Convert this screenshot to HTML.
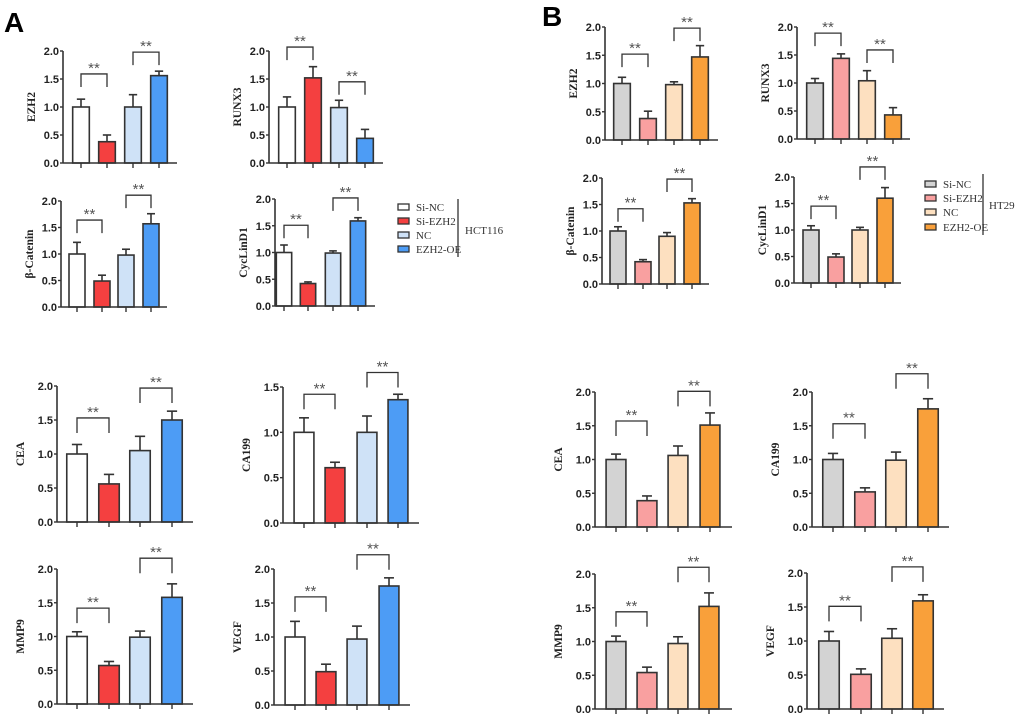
<!DOCTYPE html>
<html><head><meta charset="utf-8"><style>
body{margin:0;background:#fff;}
svg{display:block;}
.tk{font-family:"Liberation Sans",sans-serif;font-weight:bold;font-size:11px;fill:#222;}
.st{font-family:"Liberation Sans",sans-serif;font-size:15px;fill:#555;}
.yl{font-family:"Liberation Serif",serif;font-weight:bold;font-size:11.5px;fill:#222;}
.lg{font-family:"Liberation Serif",serif;font-size:11px;fill:#333;}
.pl{font-family:"Liberation Sans",sans-serif;font-weight:bold;font-size:28px;fill:#000;}
</style></head><body>
<svg id="fig" width="1020" height="722" xmlns="http://www.w3.org/2000/svg">
<text class="pl" x="4" y="32">A</text>
<text class="pl" x="542" y="26">B</text>
</svg>
<script>
const colorsA=["#ffffff","#f44040","#cfe2f7","#4d9cf5"];
const colorsB=["#d3d3d3","#f9a0a0","#fde0c0","#f9a03a"];
const groups=["Si-NC","Si-EZH2","NC","EZH2-OE"];
// values
const aEZH2=[1.0,0.38,1.0,1.56], aEZH2Err=[0.14,0.12,0.22,0.08];
const aRUNX3=[1.0,1.52,0.99,0.44], aRUNX3Err=[0.18,0.2,0.13,0.16];
const aCat=[1.0,0.49,0.98,1.57], aCatErr=[0.22,0.11,0.11,0.19];
const aCyc=[1.0,0.42,0.99,1.59], aCycErr=[0.14,0.03,0.04,0.06];
const aCEA=[1.0,0.56,1.05,1.5], aCEAErr=[0.14,0.14,0.21,0.13];
const aCA199=[1.0,0.61,1.0,1.36], aCA199Err=[0.16,0.06,0.18,0.06];
const aMMP9=[1.0,0.57,0.99,1.58], aMMP9Err=[0.07,0.06,0.09,0.2];
const aVEGF=[1.0,0.49,0.97,1.75], aVEGFErr=[0.23,0.11,0.19,0.12];
const bEZH2=[1.0,0.38,0.98,1.47], bEZH2Err=[0.11,0.13,0.05,0.2];
const bRUNX3=[1.0,1.44,1.04,0.43], bRUNX3Err=[0.08,0.08,0.18,0.13];
const bCat=[1.0,0.42,0.9,1.53], bCatErr=[0.08,0.04,0.07,0.08];
const bCyc=[1.0,0.49,1.0,1.6], bCycErr=[0.08,0.06,0.05,0.2];
const bCEA=[1.0,0.39,1.06,1.51], bCEAErr=[0.08,0.07,0.14,0.18];
const bCA199=[1.0,0.52,0.99,1.75], bCA199Err=[0.09,0.06,0.12,0.15];
const bMMP9=[1.0,0.54,0.97,1.52], bMMP9Err=[0.08,0.08,0.1,0.2];
const bVEGF=[1.0,0.51,1.04,1.59], bVEGFErr=[0.14,0.08,0.14,0.09];
const ticks2=["0.0","0.5","1.0","1.5","2.0"];
const ticks15=["0.0","0.5","1.0","1.5"];

const NS="http://www.w3.org/2000/svg";
const svg=document.getElementById("fig");
function mk(tag,attrs,parent){const e=document.createElementNS(NS,tag);for(const k in attrs)e.setAttribute(k,attrs[k]);(parent||svg).appendChild(e);return e;}

function panel(p){
  const g=mk("g",{});
  
  
  const ymax=parseFloat(p.ticks[p.ticks.length-1]);
  const y=v=>p.bot-(v/ymax)*(p.bot-p.top);
  const step=p.cx[1]-p.cx[0];
  const bw=step*0.64;
  p.vals.forEach((v,i)=>{
    const top=y(v+p.err[i]);
    const el=mk("line",{x1:p.cx[i],x2:p.cx[i],y1:y(v),y2:top,stroke:"#333","stroke-width":1.6},g);
    
    
    const cap=mk("line",{x1:p.cx[i]-bw*0.25,x2:p.cx[i]+bw*0.25,y1:top,y2:top,stroke:"#333","stroke-width":1.6},g);
    
    
    const r=mk("rect",{x:p.cx[i]-bw/2,y:y(v),width:bw,height:p.bot-y(v),fill:p.colors[i],stroke:"#333","stroke-width":1.6},g);
    
    
    const t=mk("line",{x1:p.cx[i],x2:p.cx[i],y1:p.bot,y2:p.bot+5,stroke:"#333","stroke-width":1.4},g);
    
    
  });
  const ya=mk("line",{x1:p.ax,x2:p.ax,y1:p.top,y2:p.bot,stroke:"#333","stroke-width":1.6},g);
  
  
  const xa=mk("line",{x1:p.ax,x2:p.end,y1:p.bot,y2:p.bot,stroke:"#333","stroke-width":1.6},g);
  
  
  p.ticks.forEach(tl=>{
    const yy=y(parseFloat(tl));
    mk("line",{x1:p.ax-3,x2:p.ax,y1:yy,y2:yy,stroke:"#333","stroke-width":1.4},g);
    const tx=mk("text",{x:p.ax-4,y:yy+4,"text-anchor":"end",class:"tk"},g);
    tx.textContent=tl;
    
    
  });
  const lx=p.ax-p.lo, ly=(p.top+p.bot)/2;
  const yl=mk("text",{x:lx,y:ly,"text-anchor":"middle",class:"yl",transform:`rotate(-90 ${lx} ${ly})`},g);
  yl.textContent=p.label;
  
  
  const leg=p.leg||13;
  [[0,1,p.br[0]],[2,3,p.br[1]]].forEach(([a,b,v])=>{
    const by=y(v);
    const br=mk("path",{d:`M${p.cx[a]} ${by+leg}V${by}H${p.cx[b]}V${by+leg}`,fill:"none",stroke:"#333","stroke-width":1.3},g);
    
    
    const st=mk("text",{x:(p.cx[a]+p.cx[b])/2,y:by-1,"text-anchor":"middle",class:"st"},g);
    st.textContent="**";
    
    
  });
}
const T=28,B=33;
panel({name:"a-ezh2-chart",label:"EZH2",vals:aEZH2,err:aEZH2Err,colors:colorsA,ticks:ticks2,ax:63,top:51,bot:163,end:177,cx:[81,107,133,159],br:[1.59,1.98],lo:T});
panel({name:"a-runx3-chart",label:"RUNX3",vals:aRUNX3,err:aRUNX3Err,colors:colorsA,ticks:ticks2,ax:269,top:51,bot:163,end:383,cx:[287,313,339,365],br:[2.07,1.45],lo:T});
panel({name:"a-beta-catenin-chart",label:"β-Catenin",vals:aCat,err:aCatErr,colors:colorsA,ticks:ticks2,ax:61,top:201,bot:307,end:167,cx:[77,102,126,151],br:[1.64,2.11],lo:T});
panel({name:"a-cyclind1-chart",label:"CycLinD1",vals:aCyc,err:aCycErr,colors:colorsA,ticks:ticks2,ax:275,top:199,bot:306,end:375,cx:[284,308,333,358],br:[1.51,2.02],lo:T});
panel({name:"a-cea-chart",label:"CEA",vals:aCEA,err:aCEAErr,colors:colorsA,ticks:ticks2,ax:57,top:386,bot:522,end:193,cx:[77,109,140,172],br:[1.53,1.97],lo:B,leg:15});
panel({name:"a-ca199-chart",label:"CA199",vals:aCA199,err:aCA199Err,colors:colorsA,ticks:ticks15,ax:283,top:387,bot:523,end:419,cx:[304,335,367,398],br:[1.42,1.66],lo:B,leg:15});
panel({name:"a-mmp9-chart",label:"MMP9",vals:aMMP9,err:aMMP9Err,colors:colorsA,ticks:ticks2,ax:57,top:569,bot:704,end:193,cx:[77,109,140,172],br:[1.42,2.16],lo:B,leg:15});
panel({name:"a-vegf-chart",label:"VEGF",vals:aVEGF,err:aVEGFErr,colors:colorsA,ticks:ticks2,ax:274,top:569,bot:705,end:410,cx:[295,326,357,389],br:[1.59,2.21],lo:B,leg:15});
panel({name:"b-ezh2-chart",label:"EZH2",vals:bEZH2,err:bEZH2Err,colors:colorsB,ticks:ticks2,ax:605,top:27,bot:140,end:718,cx:[622,648,674,700],br:[1.52,1.98],lo:T});
panel({name:"b-runx3-chart",label:"RUNX3",vals:bRUNX3,err:bRUNX3Err,colors:colorsB,ticks:ticks2,ax:797,top:27,bot:139,end:910,cx:[815,841,867,893],br:[1.89,1.59],lo:T});
panel({name:"b-beta-catenin-chart",label:"β-Catenin",vals:bCat,err:bCatErr,colors:colorsB,ticks:ticks2,ax:602,top:178,bot:284,end:709,cx:[618,643,667,692],br:[1.42,1.98],lo:T});
panel({name:"b-cyclind1-chart",label:"CycLinD1",vals:bCyc,err:bCycErr,colors:colorsB,ticks:ticks2,ax:794,top:177,bot:283,end:901,cx:[811,836,860,885],br:[1.45,2.19],lo:T});
panel({name:"b-cea-chart",label:"CEA",vals:bCEA,err:bCEAErr,colors:colorsB,ticks:ticks2,ax:595,top:392,bot:527,end:732,cx:[616,647,678,710],br:[1.57,2.01],lo:B,leg:15});
panel({name:"b-ca199-chart",label:"CA199",vals:bCA199,err:bCA199Err,colors:colorsB,ticks:ticks2,ax:812,top:392,bot:527,end:949,cx:[833,865,896,928],br:[1.53,2.27],lo:B,leg:15});
panel({name:"b-mmp9-chart",label:"MMP9",vals:bMMP9,err:bMMP9Err,colors:colorsB,ticks:ticks2,ax:595,top:574,bot:709,end:732,cx:[616,647,678,709],br:[1.44,2.1],lo:B,leg:15});
panel({name:"b-vegf-chart",label:"VEGF",vals:bVEGF,err:bVEGFErr,colors:colorsB,ticks:ticks2,ax:807,top:573,bot:709,end:944,cx:[829,861,892,923],br:[1.51,2.09],lo:B,leg:15});

function legend(name,bx,tx,ys,colors,lineX,ly1,ly2,cell,cx,cy){
  const g=mk("g",{});
  
  
  ys.forEach((yy,i)=>{
    const r=mk("rect",{x:bx,y:yy-3,width:11,height:6,fill:colors[i],stroke:"#333","stroke-width":1.3},g);
    
    
    const t=mk("text",{x:tx,y:yy+4,class:"lg"},g);
    t.textContent=groups[i];
    
    
  });
  mk("line",{x1:lineX,x2:lineX,y1:ly1,y2:ly2,stroke:"#333","stroke-width":1.3},g);
  const c=mk("text",{x:cx,y:cy,class:"lg"},g);
  c.textContent=cell;
  
  
}
legend("legend-hct116",398,416,[207,221,235,249],colorsA,458,199,257,"HCT116",465,234);
legend("legend-ht29",925,943,[184,198,212,227],colorsB,983,174,235,"HT29",989,209);
</script>
</body></html>
